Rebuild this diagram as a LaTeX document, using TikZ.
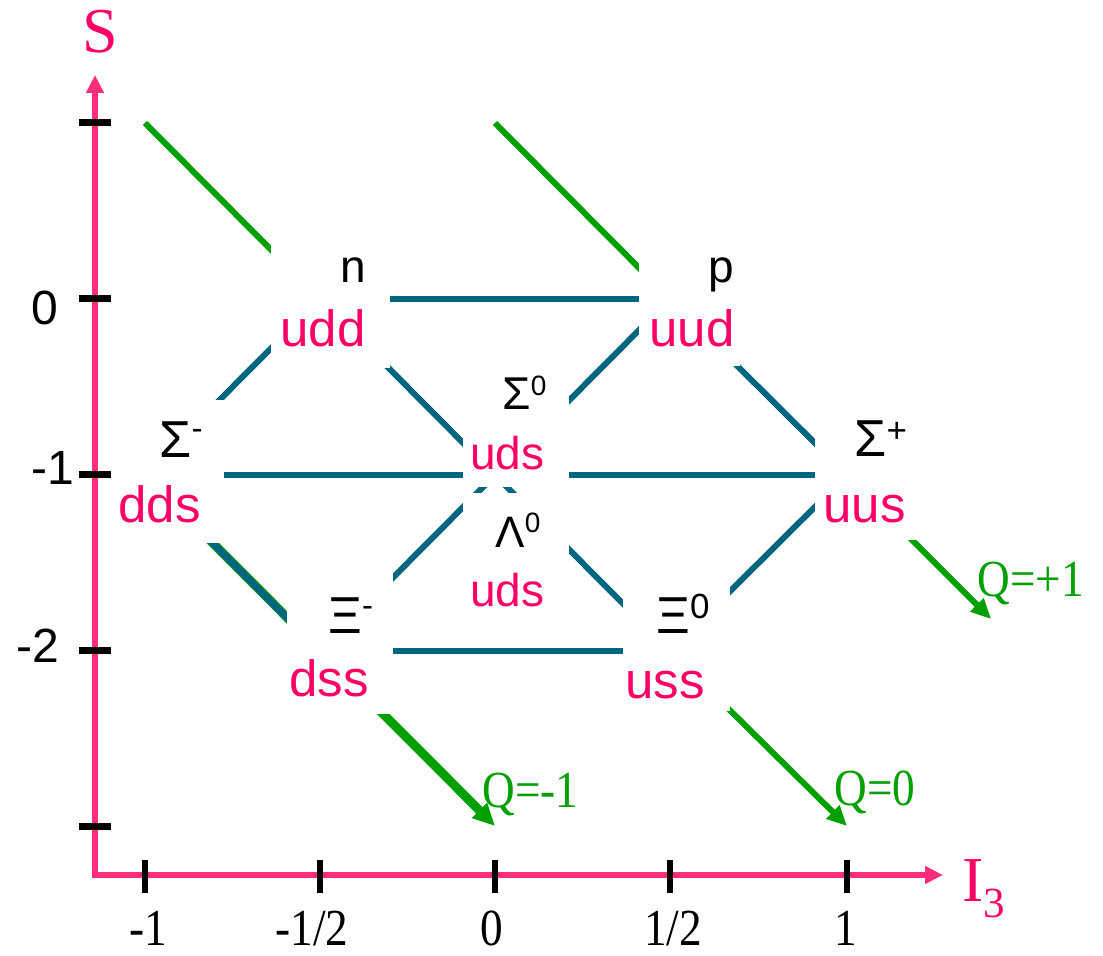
\documentclass[tikz,border=0pt]{standalone}
\usepackage{fontspec}
\setmainfont{Liberation Serif}
\setsansfont{Liberation Sans}
\usetikzlibrary{arrows.meta,fit}
\definecolor{axpink}{RGB}{255,45,122}
\definecolor{qpink}{RGB}{255,0,102}
\definecolor{tealline}{RGB}{0,102,128}
\definecolor{qgreen}{RGB}{0,160,0}
\newcommand\fs[1]{\fontsize{#1}{#1}\selectfont}
\begin{document}
\begin{tikzpicture}[x=0.5pt,y=-0.5pt,
  axis/.style={draw=axpink, line width=3pt},
  ytick/.style={draw=black, line width=3.5pt},
  xtick/.style={draw=black, line width=3pt},
  edge/.style={draw=tealline, line width=3pt},
  qline/.style={draw=qgreen, line width=3pt},
  qarrow/.style={qline, -{Triangle[length=10pt,width=9pt]}},
  wbox/.style={fill=white, inner sep=0pt},
  quark/.style={anchor=base west, inner sep=0pt, text=qpink, font=\sffamily\fs{25.5}},
  part/.style={anchor=base west, inner sep=0pt, text=black, font=\sffamily\fs{26}},
  ylab/.style={anchor=base, inner sep=0pt, font=\sffamily\fs{24}},
  xlab/.style={anchor=base, inner sep=0pt, font=\fs{26}},
  qlab/.style={anchor=base west, inner sep=0pt, text=qgreen, font=\fs{26}},
]
\useasboundingbox (0,0) rectangle (1103,956);
% grid points
\coordinate (gA) at (145,123);
\coordinate (gB) at (495,123);
\coordinate (gn) at (320,299);
\coordinate (gp) at (670,299);
\coordinate (gsm) at (145,475);
\coordinate (gs0) at (495,475);
\coordinate (gsp) at (847,475);
\coordinate (gxm) at (320,651);
\coordinate (gx0) at (670,651);
\coordinate (gq1) at (495,826);
\coordinate (gq0) at (847,826);
\coordinate (gq2) at (991,619);
% green charge lines
\draw[qline] (gA) -- (gn);
\draw[qline] (gB) -- (gp);
\draw[qarrow] (gx0) -- (gq0);
\draw[qarrow] (gsp) -- (gq2);
\draw[qarrow, line width=4.5pt, -{Triangle[length=11pt,width=10pt]}] (gsm) -- (gq1);
% teal edges
\draw[edge] (gn) -- (gp);
\draw[edge] (gn) -- (gsm);
\draw[edge] (gp) -- (gsp);
\draw[edge] (gsm) -- (gsp);
\draw[edge] (gn) -- (gx0);
\draw[edge] (gp) -- (gxm);
\draw[edge, line width=3.6pt] (gsm) -- (gxm);
\draw[edge] (gxm) -- (gx0);
\draw[edge] (gsp) -- (gx0);
% white label boxes
\node[wbox, fit={(271,240) (390,368)}] (bn) {};
\node[wbox, fit={(639,240) (740,366)}] (bp) {};
\node[wbox, fit={(115,400) (224,543)}] (bsm) {};
\node[wbox, fit={(463,370) (569,487)}] (bs0) {};
\node[wbox, fit={(463,493) (569,625)}] (bl) {};
\node[wbox, fit={(815,400) (920,540)}] (bsp) {};
\node[wbox, fit={(287,565) (393,714)}] (bxm) {};
\node[wbox, fit={(623,580) (730,711)}] (bx0) {};
% particle names
\node[part, font=\sffamily\fs{23}] (tn) at (340,283) {n};
\node[part, font=\sffamily\fs{23}] (tp) at (708,283) {p};
\node[part] (tsm) at (159,458) {Σ\raisebox{9pt}{\fs{16.5}-}};
\node[part, font=\sffamily\fs{23}] (ts0) at (502,410) {Σ\raisebox{7pt}{\fs{14}0}};
\node[part, font=\sffamily\fs{22}] (tl) at (495,548) {Λ\raisebox{7.5pt}{\fs{14}0}};
\node[part] (tsp) at (854,457) {Σ\raisebox{7pt}{\fs{17.5}+}};
\node[part] (txm) at (328,633) {Ξ\raisebox{8.5pt}{\fs{16.5}-}};
\node[part] (tx0) at (656,633) {Ξ\raisebox{7.5pt}{\fs{17.5}0}};
% quark content
\node[quark] (qudd) at (280,347) {udd};
\node[quark] (quud) at (649,347) {uud};
\node[quark] (qdds) at (118,523) {dds};
\node[quark, font=\sffamily\fs{23}] (quds1) at (470,470) {uds};
\node[quark, font=\sffamily\fs{23}] (quds2) at (470,607) {uds};
\node[quark] (quus) at (823,523) {uus};
\node[quark] (qdss) at (289,697) {dss};
\node[quark] (quss) at (625,698) {uss};
% charge labels
\node[qlab] (lq1) at (482,807) {\scalebox{0.87}[1]{Q=-1}};
\node[qlab] (lq0) at (834,805) {\scalebox{0.87}[1]{Q=0}};
\node[qlab] (lq2) at (977,597) {\scalebox{0.87}[1]{Q=+1}};
% axes
\coordinate (o) at (95,875);
\coordinate (yend) at (95,75);
\coordinate (xend) at (943,875);
\draw[axis, {Triangle[length=9pt,width=8.5pt]}-{Triangle[length=9pt,width=8.5pt]}] (yend) -- (o) -- (xend);
\foreach \y in {123,299,475,651,826} \draw[ytick] (79,\y) -- (111,\y);
\foreach \x in {145,320,495,670,847} \draw[xtick] (\x,860) -- (\x,893);
\node[anchor=base, inner sep=0pt, text=qpink, font=\fs{32}] (lS) at (100,53) {S};
\node[anchor=base west, inner sep=0pt, text=qpink, font=\fs{32}] (lI) at (962,901) {I\raisebox{-8pt}{\fs{21.5}3}};
\node[ylab] (y0) at (45,325) {0};
\node[ylab] (y1) at (53,485) {-1};
\node[ylab] (y2) at (38,662) {-2};
\node[xlab] (x1) at (148,945) {\scalebox{0.87}[1]{-1}};
\node[xlab] (x2) at (312,945) {\scalebox{0.87}[1]{-1/2}};
\node[xlab] (x3) at (492,945) {\scalebox{0.87}[1]{0}};
\node[xlab] (x4) at (673,945) {\scalebox{0.87}[1]{1/2}};
\node[xlab] (x5) at (846,945) {\scalebox{0.87}[1]{1}};
\end{tikzpicture}
\end{document}
